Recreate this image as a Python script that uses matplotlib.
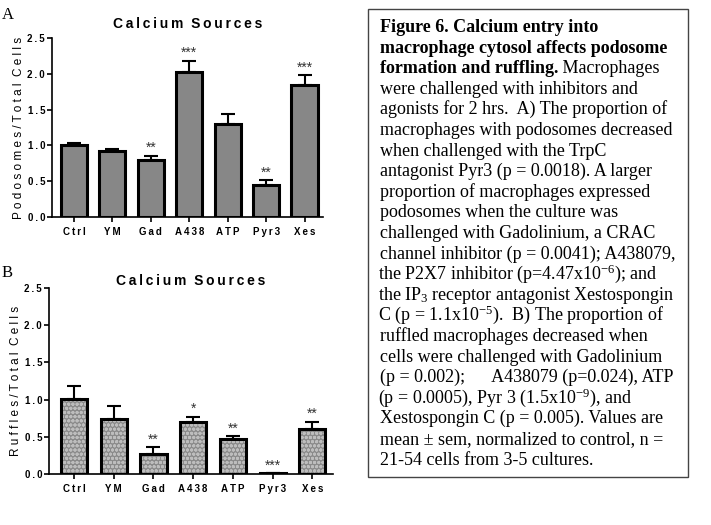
import matplotlib
matplotlib.use("Agg")
import matplotlib.pyplot as plt
import numpy as np

plt.rcParams["font.family"] = ["Liberation Sans", "DejaVu Sans"]
plt.rcParams["mathtext.fontset"] = "custom"
plt.rcParams["mathtext.rm"] = "Liberation Serif"
plt.rcParams["mathtext.it"] = "Liberation Serif:italic"
plt.rcParams["mathtext.bf"] = "Liberation Serif:bold"

groups = ["Ctrl", "YM", "Gad", "A438", "ATP", "Pyr3", "Xes"]

podo_mean = [1.00, 0.92, 0.79, 2.02, 1.30, 0.44, 1.85]
podo_sem = [0.035, 0.035, 0.065, 0.16, 0.14, 0.07, 0.13]
podo_sig = ["", "", "**", "***", "", "**", "***"]

ruff_mean = [1.01, 0.74, 0.265, 0.70, 0.475, 0.01, 0.605]
ruff_sem = [0.17, 0.18, 0.095, 0.07, 0.035, 0.0, 0.095]
ruff_sig = ["", "", "**", "*", "**", "***", "**"]

yticks = [0.0, 0.5, 1.0, 1.5, 2.0, 2.5]

caption_bold = [
    "Figure 6. Calcium entry into",
    "macrophage cytosol affects podosome",
    "formation and ruffling.",
]
caption_rest = ["", "", " Macrophages"]
caption_lines = [
    "were challenged with inhibitors and",
    "agonists for 2 hrs.  A) The proportion of",
    "macrophages with podosomes decreased",
    "when challenged with the TrpC",
    "antagonist Pyr3 (p = 0.0018). A larger",
    "proportion of macrophages expressed",
    "podosomes when the culture was",
    "challenged with Gadolinium, a CRAC",
    "channel inhibitor (p = 0.0041); A438079,",
    "the P2X7 inhibitor (p=4.47x10$^{-6}$); and",
    "the IP$_3$ receptor antagonist Xestospongin",
    "C (p = 1.1x10$^{-5}$).  B) The proportion of",
    "ruffled macrophages decreased when",
    "cells were challenged with Gadolinium",
    "(p = 0.002);      A438079 (p=0.024), ATP",
    "(p = 0.0005), Pyr 3 (1.5x10$^{-9}$), and",
    "Xestospongin C (p = 0.005). Values are",
    "mean \u00b1 sem, normalized to control, n =",
    "21-54 cells from 3-5 cultures.",
]

W, H = 711, 525
THIN = "\u2009"


def spaced(s, sep=THIN):
    # wide letter spacing like the original figure
    return sep.join(s).replace(sep + " " + sep, "  ")


def bar_panel(rect, mean, sem, sig, ylabel, xlim, width, hatched, title_pad):
    ax = fig.add_axes(rect)
    x = np.arange(len(groups))
    if hatched:
        ax.bar(x, mean, width, color="#8a8a8a", edgecolor="#bdbdbd",
               hatch="oooo", linewidth=0, zorder=2)
        ax.bar(x, mean, width, facecolor="none", edgecolor="black",
               linewidth=2.2, zorder=3)
    else:
        ax.bar(x, mean, width, color="#878787", edgecolor="black",
               linewidth=2.2, zorder=2)
    ax.errorbar(x, mean, yerr=[np.zeros(len(mean)), sem], fmt="none",
                ecolor="black", elinewidth=1.5, capsize=5, capthick=1.5,
                zorder=1)
    for xi, m, e, s in zip(x, mean, sem, sig):
        if s:
            ax.text(xi, m + e + 0.01, s, ha="center", va="bottom",
                    fontsize=10, color="#333333")
    ax.set_xlim(*xlim)
    ax.set_ylim(0, 2.5)
    ax.set_yticks(yticks)
    ax.set_yticklabels([spaced(f"{v:.1f}") for v in yticks],
                       fontsize=7, fontweight="bold")
    ax.set_xticks(x)
    ax.set_xticklabels([spaced(g) for g in groups], fontsize=7,
                       fontweight="bold")
    ax.spines[["top", "right"]].set_visible(False)
    ax.spines[["left", "bottom"]].set_linewidth(1.2)
    ax.tick_params(axis="x", width=1.2, length=3.5, pad=4)
    ax.tick_params(axis="y", width=1.2, length=3.5, pad=1.5)
    ax.set_ylabel(spaced(ylabel, " "), fontsize=8.5, labelpad=1.5)
    ax.set_title(spaced("Calcium Sources"), fontsize=10,
                 fontweight="bold", pad=title_pad)
    return ax


fig = plt.figure(figsize=(W / 100, H / 100), dpi=100)

bar_panel([52 / W, 1 - 217 / H, 271 / W, 179 / H], podo_mean, podo_sem,
          podo_sig, "Podosomes/Total Cells", (-0.57, 6.48), 0.68, False, 7)
bar_panel([49 / W, 1 - 474 / H, 284 / W, 186 / H], ruff_mean, ruff_sem,
          ruff_sig, "Ruffles/Total Cells", (-0.63, 6.52), 0.66, True, 2)

fig.text(2 / W, 1 - 19 / H, "A", fontsize=12, family="Liberation Serif",
         va="baseline")
fig.text(2 / W, 1 - 277 / H, "B", fontsize=12, family="Liberation Serif",
         va="baseline")

# caption box
box = plt.Rectangle((368 / W, 1 - 477 / H), 320 / W, 468 / H,
                    transform=fig.transFigure, facecolor="white",
                    edgecolor="#444444", linewidth=1.0, zorder=5)
fig.add_artist(box)

x0 = 380 / W
y_first = 32
step = 20.6
fs = 13
serif = "Liberation Serif"
bold_texts = []
for i, b in enumerate(caption_bold):
    y = 1 - (y_first + i * step) / H
    t = fig.text(x0, y, b, fontsize=fs, family=serif, fontweight="bold",
                 va="baseline", zorder=6)
    bold_texts.append(t)
for j, line in enumerate(caption_lines):
    y = 1 - (y_first + (j + 3) * step) / H
    xs = x0 - (1.5 / W if "$" in line else 0)
    fig.text(xs, y, line, fontsize=fs, family=serif, va="baseline", zorder=6)

fig.canvas.draw()
for i, (t, r) in enumerate(zip(bold_texts, caption_rest)):
    if r:
        bb = t.get_window_extent()
        y = 1 - (y_first + i * step) / H
        fig.text(bb.x1 / W, y, r, fontsize=fs, family=serif,
                 va="baseline", zorder=6)

fig.savefig("out.png", dpi=100)
